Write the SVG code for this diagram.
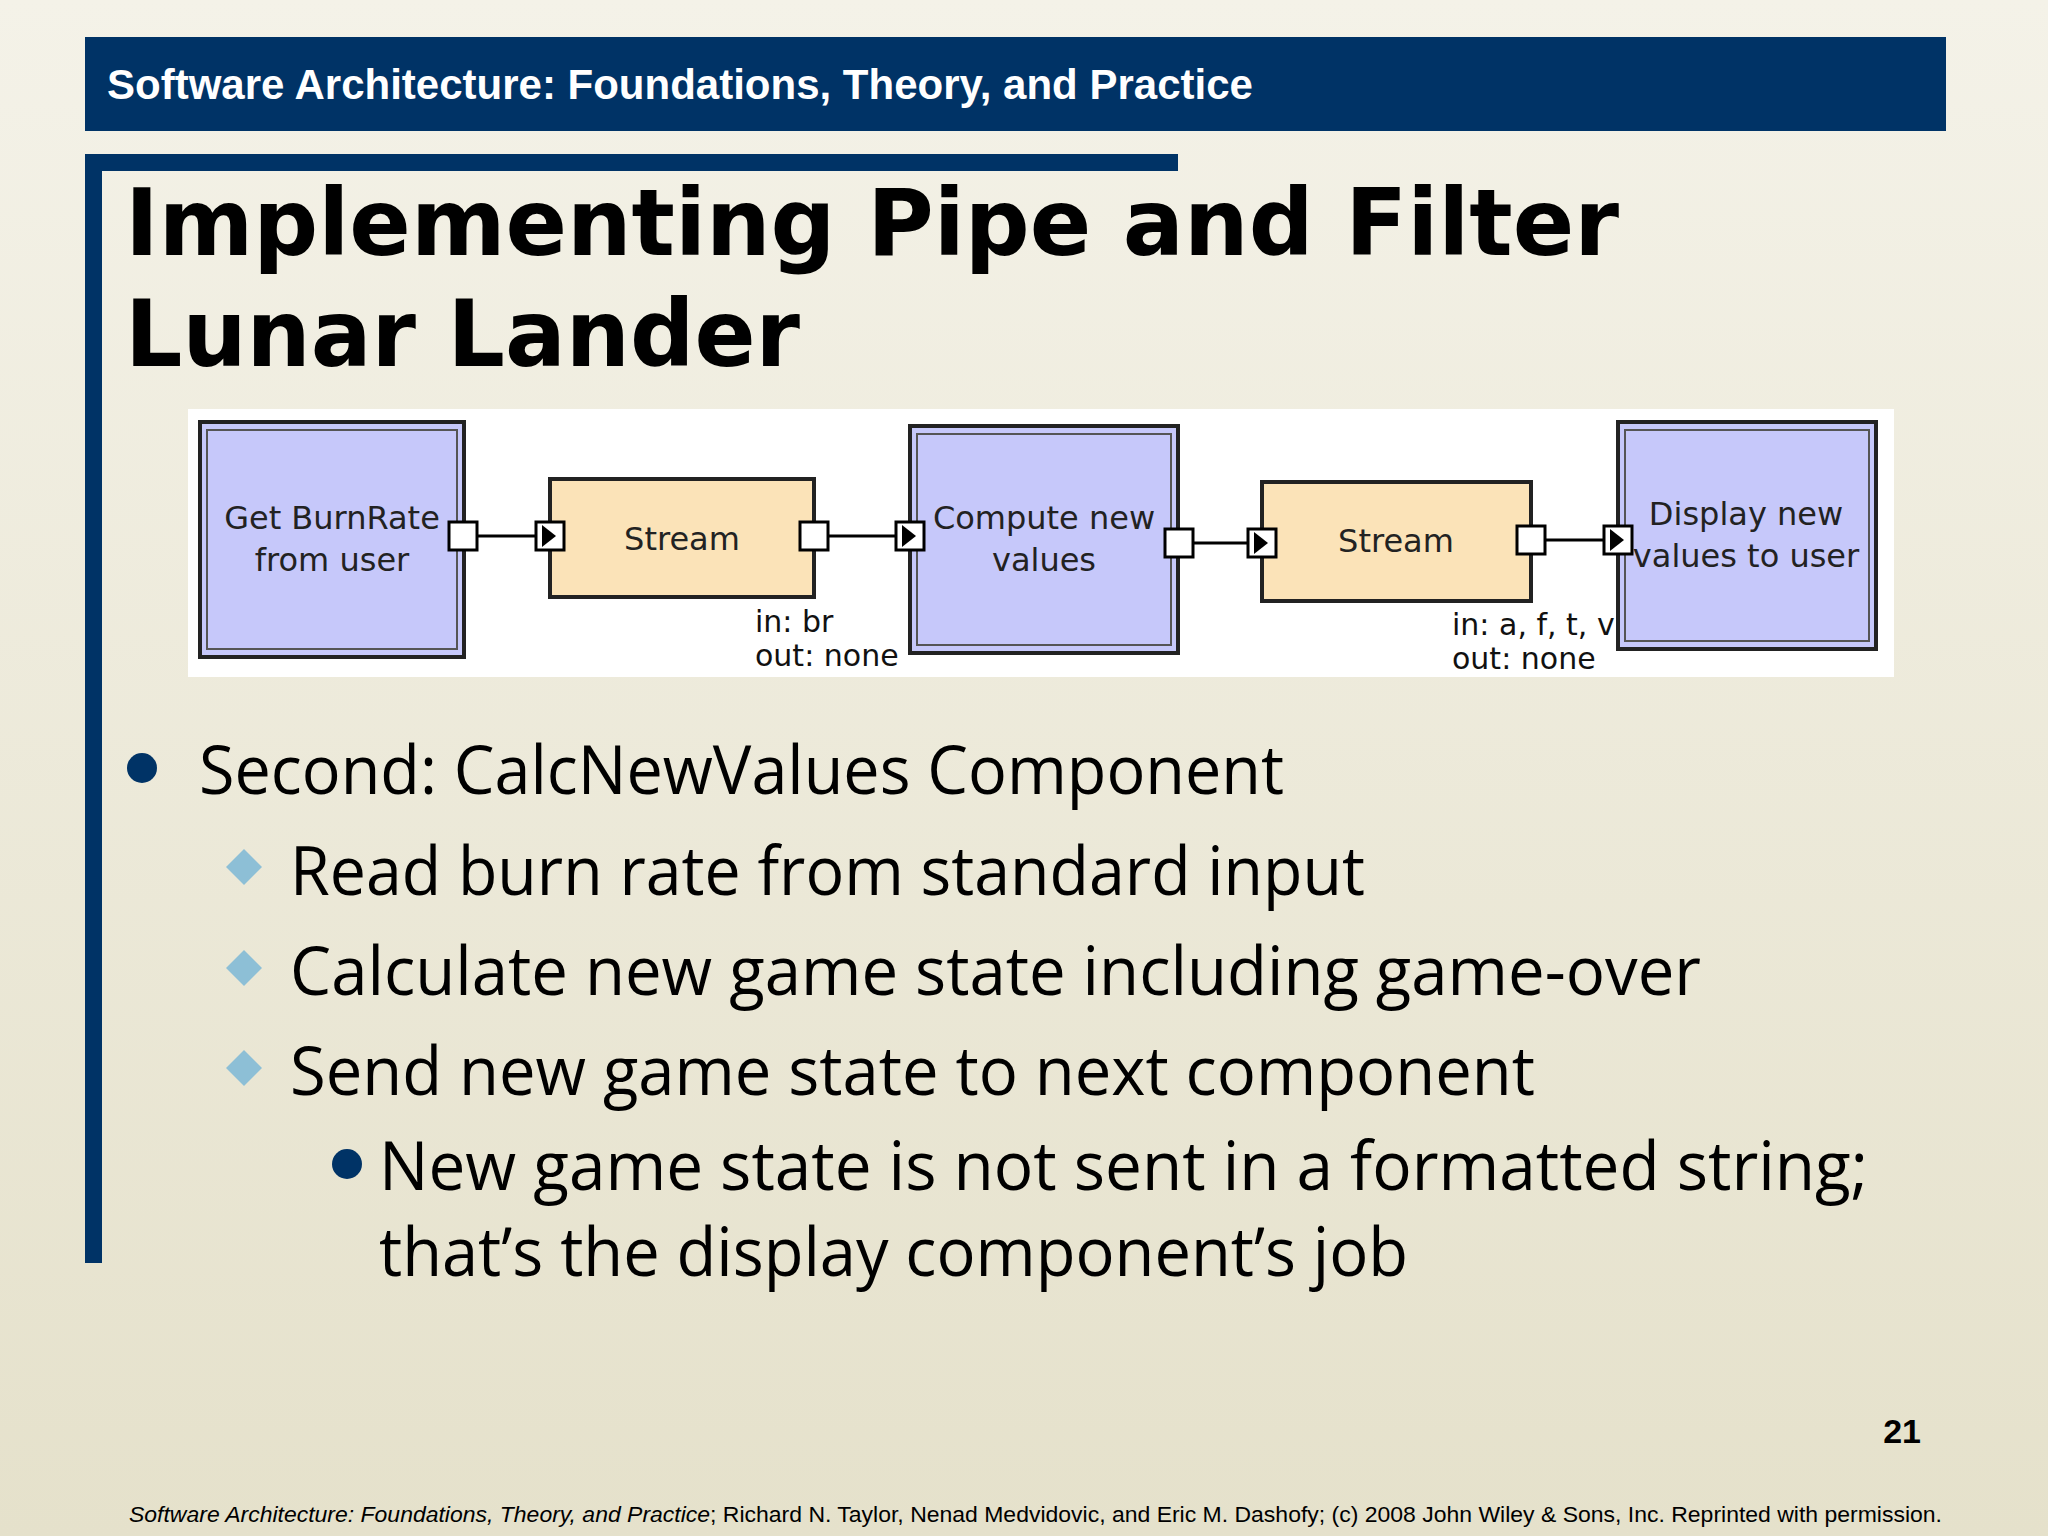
<svg xmlns="http://www.w3.org/2000/svg" width="2048" height="1536" viewBox="0 0 2048 1536">
<defs>
<linearGradient id="bg" x1="0" y1="0" x2="0" y2="1"><stop offset="0" stop-color="#f4f2e8"/><stop offset="1" stop-color="#e5e1cb"/></linearGradient>
<g id="port"><rect x="-14" y="-14" width="28" height="28" fill="#fff" stroke="#000" stroke-width="3"/></g>
<g id="inport"><rect x="-14" y="-14" width="28" height="28" fill="#fff" stroke="#000" stroke-width="3"/><path d="M-8,-11 L6,0 L-8,11 Z" fill="#000"/></g>
</defs>
<style>
.comp{fill:#c6c8fa;stroke:#222;stroke-width:4}
.inner{fill:none;stroke:#555;stroke-width:2}
.strm{fill:#fbe3b8;stroke:#222;stroke-width:4}
.lbl{font-family:"DejaVu Sans",sans-serif;font-size:32px;fill:#222;text-anchor:middle}
.note{font-family:"DejaVu Sans",sans-serif;font-size:30px;fill:#111}
.b{font-family:"Open Sans","DejaVu Sans",sans-serif;font-size:68px;fill:#000}
.wire{stroke:#000;stroke-width:3}
</style>
<rect width="2048" height="1536" fill="url(#bg)"/>
<rect x="85" y="37" width="1861" height="94" fill="#003366"/>
<text x="107" y="99" font-family="Liberation Sans,Arial,sans-serif" font-weight="bold" font-size="42" fill="#fff">Software Architecture: Foundations, Theory, and Practice</text>
<rect x="85" y="154" width="1093" height="17" fill="#003366"/>
<rect x="85" y="154" width="17" height="1109" fill="#003366"/>
<text x="125" y="255" font-family="DejaVu Sans,Verdana,sans-serif" font-weight="bold" font-size="92" textLength="1494" lengthAdjust="spacingAndGlyphs" fill="#000">Implementing Pipe and Filter</text>
<text x="125" y="366" font-family="DejaVu Sans,Verdana,sans-serif" font-weight="bold" font-size="92" textLength="675" lengthAdjust="spacingAndGlyphs" fill="#000">Lunar Lander</text>
<rect x="188" y="409" width="1706" height="268" fill="#fff"/>
<g id="connectors">
<line class="wire" x1="478" y1="536" x2="535" y2="536"/>
<line class="wire" x1="829" y1="536" x2="895" y2="536"/>
<line class="wire" x1="1194" y1="543" x2="1247" y2="543"/>
<line class="wire" x1="1546" y1="540" x2="1603" y2="540"/>
</g>
<g id="getburn"><rect class="comp" x="200" y="422" width="264" height="235"/><rect class="inner" x="207" y="430" width="250" height="219"/>
<text class="lbl" x="332" y="529">Get BurnRate</text><text class="lbl" x="332" y="571">from user</text><use href="#port" x="463" y="536"/></g>
<g id="stream1"><rect class="strm" x="550" y="479" width="264" height="118"/><text class="lbl" x="682" y="550">Stream</text>
<use href="#inport" x="550" y="536"/><use href="#port" x="814" y="536"/>
<text class="note" x="755" y="632">in: br</text><text class="note" x="755" y="666">out: none</text></g>
<g id="compute"><rect class="comp" x="910" y="426" width="268" height="227"/><rect class="inner" x="917" y="434" width="254" height="211"/>
<text class="lbl" x="1044" y="529">Compute new</text><text class="lbl" x="1044" y="571">values</text>
<use href="#inport" x="910" y="536"/><use href="#port" x="1179" y="543"/></g>
<g id="stream2"><rect class="strm" x="1262" y="482" width="269" height="119"/><text class="lbl" x="1396" y="552">Stream</text>
<use href="#inport" x="1262" y="543"/><use href="#port" x="1531" y="540"/>
<text class="note" x="1452" y="635">in: a, f, t, v</text><text class="note" x="1452" y="669">out: none</text></g>
<g id="display"><rect class="comp" x="1618" y="422" width="258" height="227"/><rect class="inner" x="1625" y="430" width="244" height="211"/>
<text class="lbl" x="1746" y="525">Display new</text><text class="lbl" x="1746" y="567">values to user</text>
<use href="#inport" x="1618" y="540"/></g>
<circle cx="142" cy="768" r="15" fill="#003366"/>
<text class="b" x="199" y="794" textLength="1085" lengthAdjust="spacingAndGlyphs">Second: CalcNewValues Component</text>
<g fill="#8dbfd6"><path d="M244,849 L262,867 L244,885 L226,867 Z"/><path d="M244,950 L262,968 L244,986 L226,968 Z"/><path d="M244,1050 L262,1068 L244,1086 L226,1068 Z"/></g>
<text class="b" x="290" y="895" textLength="1075" lengthAdjust="spacingAndGlyphs">Read burn rate from standard input</text>
<text class="b" x="290" y="995" textLength="1411" lengthAdjust="spacingAndGlyphs">Calculate new game state including game-over</text>
<text class="b" x="290" y="1095" textLength="1245" lengthAdjust="spacingAndGlyphs">Send new game state to next component</text>
<circle cx="347" cy="1164" r="15" fill="#003366"/>
<text class="b" x="379" y="1190" textLength="1489" lengthAdjust="spacingAndGlyphs">New game state is not sent in a formatted string;</text>
<text class="b" x="379" y="1276" textLength="1029" lengthAdjust="spacingAndGlyphs">that’s the display component’s job</text>
<text x="1921" y="1443" text-anchor="end" font-family="Liberation Sans,Arial,sans-serif" font-weight="bold" font-size="34" fill="#000">21</text>
<text x="129" y="1522" font-family="Liberation Sans,Arial,sans-serif" font-size="22" fill="#000" textLength="1813" lengthAdjust="spacingAndGlyphs"><tspan font-style="italic">Software Architecture: Foundations, Theory, and Practice</tspan>; Richard N. Taylor, Nenad Medvidovic, and Eric M. Dashofy; (c) 2008 John Wiley &amp; Sons, Inc. Reprinted with permission.</text>
</svg>
